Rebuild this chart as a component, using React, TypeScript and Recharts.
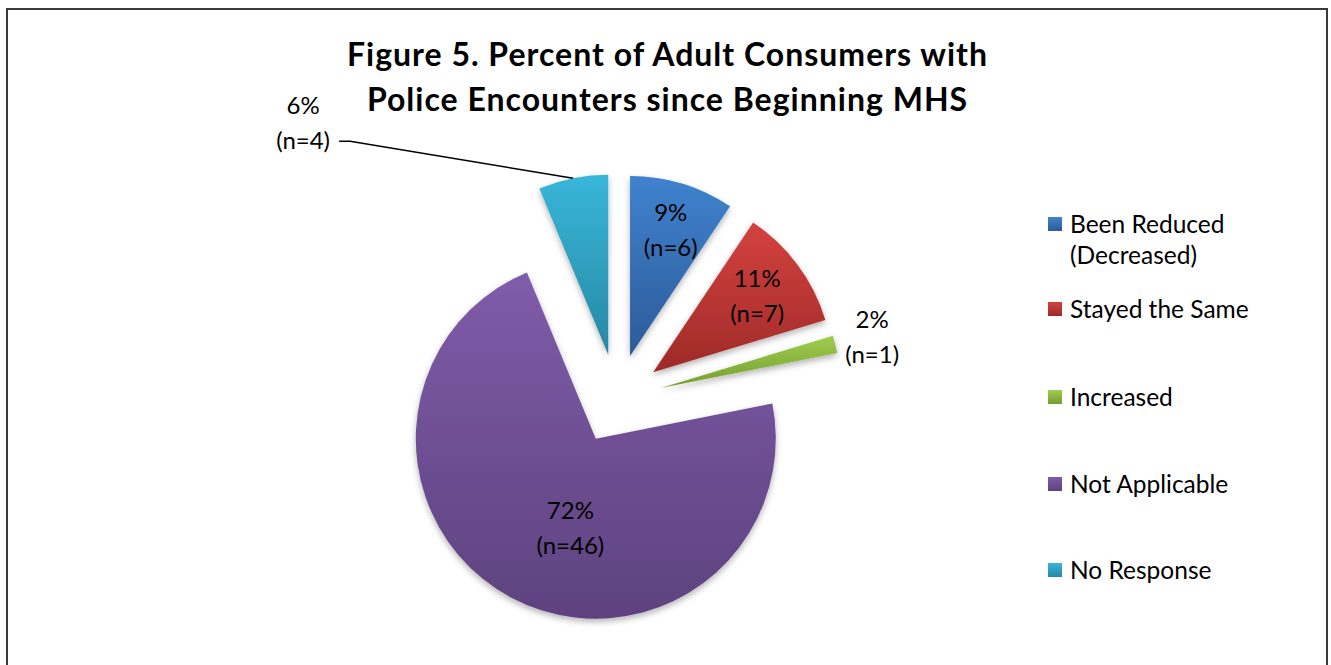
import React from 'react';
import { PieChart, Pie, Cell, Legend } from 'recharts';

const categories = ['Been Reduced (Decreased)', 'Stayed the Same', 'Increased', 'Not Applicable', 'No Response'];
const counts = [6, 7, 1, 46, 4];
const percentLabels = ['9%', '11%', '2%', '72%', '6%'];
const countLabels = ['(n=6)', '(n=7)', '(n=1)', '(n=46)', '(n=4)'];

const COLORS = [
  { top: '#4082cf', bottom: '#2c5b99' },
  { top: '#d4423f', bottom: '#9f2a28' },
  { top: '#a0cd4d', bottom: '#749d31' },
  { top: '#7f5caa', bottom: '#5d427e' },
  { top: '#38b6da', bottom: '#2888a3' },
];

const CX = 617;
const CY = 399;
const RADIUS = 180;
const EXPLODE = 45;
const FONT = 'Lato, "Open Sans", sans-serif';

// how far out each label sits, as a share of the radius
const LABEL_RADIUS = [0.74, 0.72, 1.2, 0.5, 0];
const LABEL_NUDGE = [[2, 0], [0, 0], [2, 0], [17, 8], [0, 0]];
const LEGEND_ROWS = [208, 293, 381, 468, 554];

const data = categories.map((name, i) => ({ name, value: counts[i] }));
const total = counts.reduce((a, b) => a + b, 0);

const RAD = Math.PI / 180;

// clockwise angle from 12 o'clock to the middle of each slice
const midAngles = counts.map((c, i) => {
  const before = counts.slice(0, i).reduce((a, b) => a + b, 0);
  return ((before + c / 2) / total) * 360;
});

const polar = (cx: number, cy: number, r: number, angle: number) => ({
  x: cx + r * Math.cos(-angle * RAD),
  y: cy + r * Math.sin(-angle * RAD),
});

const TwoLines = ({ x, y, i }: { x: number; y: number; i: number }) => (
  <g>
    <text x={x} y={y - 17} textAnchor="middle" dominantBaseline="central" fontFamily={FONT} fontSize={24} fill="#000">
      {percentLabels[i]}
    </text>
    <text x={x} y={y + 18} textAnchor="middle" dominantBaseline="central" fontFamily={FONT} fontSize={24} fill="#000">
      {countLabels[i]}
    </text>
  </g>
);

const makeLabel = (slot: number) => (props: any) => {
  if (props.index !== slot) return null;
  const { cx, cy, midAngle, outerRadius } = props;
  if (slot === 4) {
    const edge = polar(cx, cy, outerRadius, midAngle);
    const bend = { x: edge.x - 223, y: edge.y - 37 };
    return (
      <g>
        <path
          d={`M${edge.x},${edge.y}L${bend.x},${bend.y}L${bend.x - 11},${bend.y}`}
          stroke="#000"
          strokeWidth={1.5}
          fill="none"
        />
        <TwoLines x={edge.x - 270} y={edge.y - 57} i={slot} />
      </g>
    );
  }
  const p = polar(cx, cy, outerRadius * LABEL_RADIUS[slot], midAngle);
  return <TwoLines x={p.x + LABEL_NUDGE[slot][0]} y={p.y + LABEL_NUDGE[slot][1]} i={slot} />;
};

const LegendBox = () => (
  <div style={{ position: 'relative', width: 260, height: 400, fontFamily: FONT, fontSize: 24.5, color: '#000' }}>
    {categories.map((name, i) => (
      <div key={name} style={{ position: 'absolute', left: 0, top: LEGEND_ROWS[i] - 210, display: 'flex' }}>
        <div
          style={{
            width: 14,
            height: 14,
            marginTop: 8.5,
            background: `linear-gradient(${COLORS[i].top}, ${COLORS[i].bottom})`,
            flexShrink: 0,
          }}
        />
        <div style={{ marginLeft: 8, width: 200, lineHeight: '31px', textAlign: 'left' }}>{name}</div>
      </div>
    ))}
  </div>
);

export default function App() {
  return (
    <div style={{ position: 'absolute', left: 0, top: 0, width: 1331, height: 665, overflow: 'hidden', background: '#fff' }}>
      <div
        style={{
          position: 'absolute',
          left: 6,
          top: 8,
          width: 1318,
          height: 700,
          border: '2px solid #3a3a3a',
        }}
      />
      <div
        style={{
          position: 'absolute',
          left: 0,
          top: 31,
          width: 1331,
          textAlign: 'center',
          fontFamily: FONT,
          fontWeight: 700,
          fontSize: 32,
          letterSpacing: 1,
          lineHeight: '45px',
          color: '#000',
          paddingLeft: 2,
        }}
      >
        Figure 5. Percent of Adult Consumers with
        <br />
        Police Encounters since Beginning MHS
      </div>
      <div style={{ position: 'absolute', left: 0, top: 0 }}>
        <PieChart width={1331} height={665} margin={{ top: 0, right: 0, bottom: 0, left: 0 }}>
          <defs>
            {COLORS.map((c, i) => (
              <linearGradient key={i} id={`grad${i}`} x1="0" y1="0" x2="0" y2="1">
                <stop offset="0%" stopColor={c.top} />
                <stop offset="100%" stopColor={c.bottom} />
              </linearGradient>
            ))}
            <filter id="shade" x="-20%" y="-20%" width="140%" height="140%">
              <feDropShadow dx="0" dy="3" stdDeviation="3" floodColor="#000" floodOpacity="0.3" />
            </filter>
          </defs>
          {categories.map((name, slot) => {
            const off = polar(0, 0, EXPLODE, 90 - midAngles[slot]);
            return (
              <Pie
                key={name}
                data={data}
                dataKey="value"
                nameKey="name"
                cx={CX + off.x}
                cy={CY + off.y}
                outerRadius={RADIUS}
                startAngle={90}
                endAngle={-270}
                stroke="none"
                isAnimationActive={false}
                labelLine={false}
                label={makeLabel(slot)}
              >
                {data.map((d, i) => (
                  <Cell
                    key={d.name}
                    fill={i === slot ? `url(#grad${i})` : 'none'}
                    filter={i === slot ? 'url(#shade)' : undefined}
                  />
                ))}
              </Pie>
            );
          })}
          <Legend
            layout="vertical"
            content={() => <LegendBox />}
            wrapperStyle={{ position: 'absolute', left: 1048, top: 210, width: 260, height: 400 }}
          />
        </PieChart>
      </div>
    </div>
  );
}
